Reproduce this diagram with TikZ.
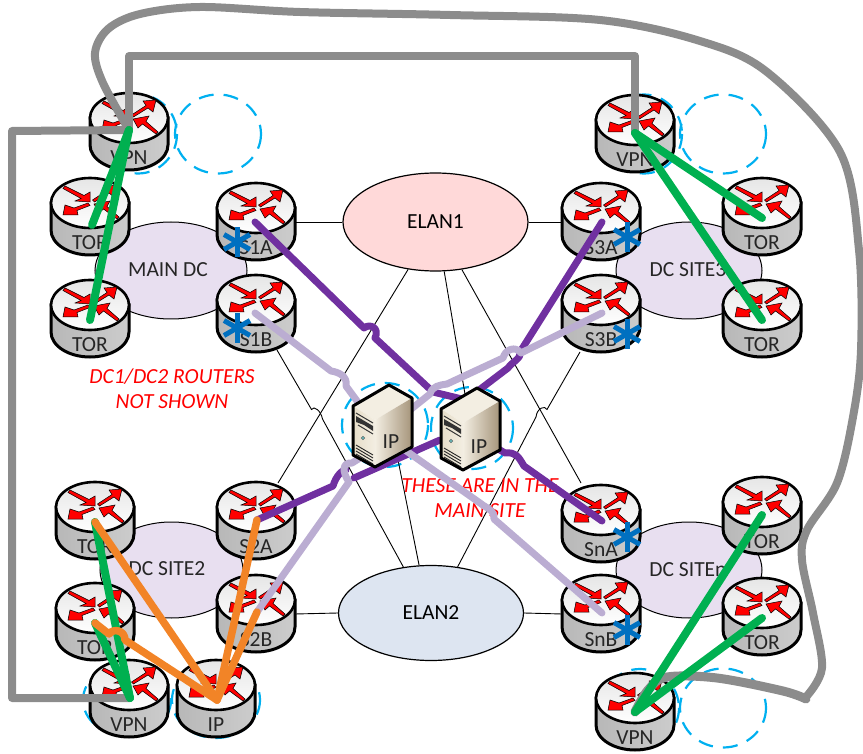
\documentclass[tikz,border=0pt]{standalone}
\usepackage{fontspec}
\setmainfont{Carlito}
\usetikzlibrary{shapes.geometric}
\definecolor{grpfill}{HTML}{E8DFF0}
\definecolor{elanpink}{HTML}{FFD9D9}
\definecolor{elanblue}{HTML}{DDE5F1}
\definecolor{wanpurple}{HTML}{7030A0}
\definecolor{wanlilac}{HTML}{BBADD2}
\definecolor{wangreen}{HTML}{00B050}
\definecolor{wanorange}{HTML}{F28427}
\definecolor{wangray}{HTML}{8C8C8C}
\definecolor{astblue}{HTML}{0070C0}
\definecolor{dashblue}{HTML}{00B0F0}
\definecolor{srvtop}{HTML}{F3EEE2}
\definecolor{srvl}{HTML}{E6DDC8}
\definecolor{srvr}{HTML}{A5947A}
\tikzset{
  grpell/.style={ellipse,draw=black,line width=1pt,fill=grpfill,inner sep=0pt},
  elanell/.style={ellipse,draw=black,line width=1.2pt,inner sep=0pt,font=\fontsize{21.5}{24}\selectfont},
  thinln/.style={draw=black,line width=0.9pt},
  dashring/.style={draw=dashblue,line width=2.2pt,dash pattern=on 15pt off 10pt},
  rlabel/.style={inner sep=0pt,font=\fontsize{21.5}{24}\selectfont,text=black!85},
  slabel/.style={inner sep=0pt,font=\fontsize{21.5}{24}\selectfont,text=black!85},
  redtxt/.style={inner sep=0pt,text=red,font=\fontsize{21.5}{25}\itshape\selectfont,align=center},
  rarrow/.style={fill=red,draw=black,line width=0.5pt,line join=miter},
  purpleln/.style={draw=wanpurple,line width=7pt,line cap=round,line join=round},
  lilacln/.style={draw=wanlilac,line width=7pt,line cap=round,line join=round},
  greenln/.style={draw=wangreen,line width=8pt,line cap=round,line join=round},
  orangeln/.style={draw=wanorange,line width=7.5pt,line cap=round,line join=round},
  grayln/.style={draw=wangray,line width=8pt,line cap=round,line join=round},
  astarm/.style={draw=astblue,line width=5pt}
}
% name, x, y (centre of top ellipse), label
\newcommand{\routerat}[4]{%
  \begin{scope}[shift={(#2,#3)}]
    \path[left color=black!28,middle color=white,right color=black!20,draw=black,line width=3pt]
      (-39,0) -- (-39,27) .. controls (-39,40.8) and (-21.5,52) .. (0,52)
      .. controls (21.5,52) and (39,40.8) .. (39,27) -- (39,0) -- cycle;
    \path[top color=black!10,bottom color=white,draw=black,line width=2.6pt]
      (0,0) ellipse [x radius=39,y radius=25];
    \draw[rarrow] (-25,-17) -- (-6,-7.5) -- (0,-11) -- (0,-1) -- (-15,-2) -- (-9,-4.5) -- (-27,-14.5) -- cycle;
    \draw[rarrow] (2.5,-3) -- (17,-12.5) -- (14,-17) -- (27,-18) -- (24,-6) -- (19,-10) -- (4.5,-1) -- cycle;
    \draw[rarrow] (-2,0) -- (-16,5) -- (-25,2) -- (-27,12) -- (-12,12) -- (-13,7.5) -- (0,2.5) -- cycle;
    \draw[rarrow] (4,1) -- (20,-2) -- (17,3.5) -- (29,14) -- (27,16) -- (13.5,6) -- (9,10) -- cycle;
    \coordinate (#1) at (0,0);
    \coordinate (#1-w) at (-39,14);
    \coordinate (#1-e) at (39,14);
    \node[rlabel] (#1-l) at (0,40) {#4};
  \end{scope}}
% name, x, y of upper-left corner of the front face
\newcommand{\serverat}[3]{%
  \begin{scope}[shift={(#2,#3)}]
    \path[fill=srvtop] (0,0) -- (36,-21) -- (59,-8) -- (22,14) -- cycle;
    \path[left color=srvl,right color=srvtop] (0,0) -- (22,14) -- (22,61) -- (0,49) -- cycle;
    \path[left color=srvtop,right color=srvr] (22,14) -- (59,-8) -- (59,41) -- (22,61) -- cycle;
    \draw[black!80,line width=1pt] (3,7) -- (20,17);
    \fill[black!80] (3,10) -- (20,20) -- (20,25) -- (11,19) -- (3,16) -- cycle;
    \draw[black!80,line width=1pt] (5,19) -- (20,28);
    \fill[teal!60,draw=black!60,line width=0.4pt] (10,32) circle [radius=1.8];
    \foreach \vv in {0,3,6,9}{\draw[black!85,line width=0.9pt] (3,39+\vv) -- (20,49+\vv);}
    \draw[black,line width=3pt,line join=round] (0,0) -- (36,-21) -- (59,-8) -- (59,41) -- (22,61) -- (0,49) -- cycle;
    \coordinate (#1) at (29,20);
  \end{scope}}
\newcommand{\blueast}[2]{%
  \foreach \aa in {90,30,-30}{\draw[astarm] ([shift={(\aa:-15pt)}]#1,#2) -- ([shift={(\aa:15pt)}]#1,#2);}}
\begin{document}
\begin{tikzpicture}[x=1pt,y=-1pt]
\useasboundingbox (0,0) rectangle (863,754);
\clip (0,0) rectangle (863,754);
% dashed rings
\foreach \cx/\cy/\rx/\ry in {218/134/43/39.5,138/134/39/39.5,723/134/43/39.5,644/134/38/39.5,723/708/43/39.5,640/708/39/39,127/700/44/36,216/700/44/38,385/425/43/42,472/428/41/41}{
  \draw[dashring] (\cx,\cy) ellipse [x radius=\rx,y radius=\ry];}
% group ellipses
\node[grpell,minimum width=152pt,minimum height=97pt] (maindc) at (171,270.5) {};
\node[grpell,minimum width=146pt,minimum height=97pt] (site3) at (689,270.5) {};
\node[grpell,minimum width=143pt,minimum height=96pt] (site2) at (171.5,570) {};
\node[grpell,minimum width=146pt,minimum height=96pt] (siten) at (689,570) {};
\node[rlabel] at (168,270) {MAIN DC};
\node[rlabel] at (688,270) {DC SITE3};
\node[rlabel] at (167,569) {DC SITE2};
\node[rlabel] at (688,570) {DC SITEn};
% ELAN
\node[elanell,fill=elanpink,minimum width=185pt,minimum height=98pt] (elan1) at (435.5,222) {ELAN1};
\node[elanell,fill=elanblue,minimum width=185pt,minimum height=95pt] (elan2) at (431,613) {ELAN2};
% routers
\routerat{vpn1}{129}{118}{VPN}
\routerat{tor1}{90}{203}{TOR}
\routerat{tor2}{90}{305}{TOR}
\routerat{s1a}{256}{208}{S1A}
\routerat{s1b}{256}{300}{S1B}
\routerat{vpn2}{635}{120}{VPN}
\routerat{s3a}{601}{208}{S3A}
\routerat{s3b}{601}{300}{S3B}
\routerat{tor3}{762}{203}{TOR}
\routerat{tor4}{762}{305}{TOR}
\routerat{tor5}{95}{507}{TOR}
\routerat{tor6}{95}{608}{TOR}
\routerat{vpn3}{129}{685}{VPN}
\routerat{iprt}{216}{685}{IP}
\routerat{s2a}{256}{507}{S2A}
\routerat{s2b}{256}{600}{S2B}
\routerat{sna}{601}{510}{SnA}
\routerat{snb}{601}{600}{SnB}
\routerat{tor7}{762}{502}{TOR}
\routerat{tor8}{762}{603}{TOR}
\routerat{vpn4}{635}{698}{VPN}
% free ends of the thin links
\coordinate (s1bfoot) at (277,350);
\coordinate (s3bfoot) at (580,352);
\coordinate (s2atop) at (278,483);
\coordinate (snatop) at (581,483);
\coordinate (srv1thin) at (396,450);
\coordinate (srv2thin) at (466,400);
% thin links
\draw[thinln] (s1a-e) -- (elan1.west);
\draw[thinln] (elan1.east) -- (s3a-w);
\draw[thinln] (s2b-e) -- (elan2.west);
\draw[thinln] (elan2.east) -- (snb-w);
\draw[thinln] (elan1.240) -- (s2atop);
\draw[thinln] (elan1.280) -- (srv2thin);
\draw[thinln] (elan1.299) -- (snatop);
\draw[thinln] (elan2.104) -- (srv1thin);
\draw[thinln] (s1bfoot) -- (311.5,409.5) .. controls (314,405) and (321,411) .. (322.5,419) -- (elan2.121);
\draw[thinln] (s3bfoot) -- (547,409.5) .. controls (545,405) and (537,408) .. (536,417) -- (elan2.60);
% red notes
\node[redtxt] (note1) at (172,388.5) {DC1/DC2 ROUTERS\\NOT SHOWN};
\node[redtxt] (note2) at (480,498.5) {THESE ARE IN THE\\MAIN SITE};
% asterisks
\blueast{237}{242}
\blueast{237}{328}
\blueast{627}{237}
\blueast{627}{334}
\blueast{627}{537}
\blueast{627}{630}
% named ends of the heavy links
\coordinate (vpn1a) at (129,130);
\coordinate (vpn2a) at (635,133);
\coordinate (vpn3a) at (130,698);
\coordinate (vpn4a) at (635,712);
\coordinate (ipa) at (217,700);
\coordinate (tor1a) at (92,225);
\coordinate (tor2a) at (90,320);
\coordinate (tor3a) at (762,218);
\coordinate (tor4a) at (762,320);
\coordinate (tor5a) at (95,522);
\coordinate (tor6a) at (95,623);
\coordinate (tor7a) at (762,515);
\coordinate (tor8a) at (762,618);
\coordinate (s1aa) at (255,222);
\coordinate (s1ba) at (255,313);
\coordinate (s2aa) at (257,520);
\coordinate (s2ba) at (257,612);
\coordinate (s3aa) at (602,222);
\coordinate (s3ba) at (602,313);
\coordinate (snaa) at (602,521);
\coordinate (snba) at (602,613);
% gray links
\draw[grayln] (vpn1a) -- (12,131) -- (12,698) -- (vpn3a);
\draw[grayln] (vpn1a) -- (129,56) -- (635,56) -- (vpn2a);
\draw[grayln] plot[smooth,tension=0.55] coordinates {(vpn1a) (103,83) (95,53) (108,29) (140,14) (200,7) (300,12) (450,15) (600,20) (700,41) (767,72) (840,152) (859,250) (861,350) (853,417) (837,483) (807,530) (802,560) (813,613) (822,668) (806,697)};
\draw[grayln,line width=9pt] plot[smooth,tension=0.55] coordinates {(806,699) (783,691) (717,678) (667,677) (648,690) (vpn4a)};
% purple links
\draw[purpleln] (s1aa) -- (364,328) .. controls (370,323) and (380,328) .. (375,338) -- (433,392) -- (srv2thin);
\draw[purpleln] (s3aa) -- (520,352) .. controls (522,358) and (512,362) .. (508,368) -- (srv2thin);
\draw[purpleln] (s2aa) -- (333,486) .. controls (336,476) and (342,470) .. (346,470) (354,478) -- (440,440);
\draw[purpleln] (snaa) -- (524,466) .. controls (518,456) and (516,452) .. (505,453) -- (495,447);
% lilac links
\draw[lilacln] (s3ba) -- (521,353) .. controls (515,345) and (505,350) .. (503,358) -- (447,384) .. controls (440,385) and (432,386) .. (430,394) -- (410,410);
\draw[lilacln] (s1ba) -- (331,371) .. controls (338,372) and (348,376) .. (346,386) -- (360,405);
\draw[lilacln] (s2ba) -- (349,482) .. controls (342,472) and (342,462) .. (352,463) -- (360,458);
\draw[lilacln] (snba) -- (494,519) .. controls (495,510) and (486,508) .. (480,503) -- (405,450);
% servers
\serverat{srv1}{353}{406}
\serverat{srv2}{441}{409}
\node[slabel] (srv1l) at (391,442) {IP};
\node[slabel] (srv2l) at (479,447) {IP};
% green links
\draw[greenln] (vpn1a) -- (tor1a);
\draw[greenln] (vpn1a) -- (tor2a);
\draw[greenln] (vpn2a) -- (tor3a);
\draw[greenln] (vpn2a) -- (tor4a);
\draw[greenln] (vpn3a) -- (tor5a);
\draw[greenln] (vpn3a) -- (tor6a);
\draw[greenln] (vpn4a) -- (tor7a);
\draw[greenln] (vpn4a) -- (tor8a);
% orange links
\draw[orangeln] (ipa) -- (tor5a);
\draw[orangeln] (tor6a) -- (109,634) .. controls (113,628) and (125,630) .. (125,640) -- (ipa);
\draw[orangeln] (ipa) -- (s2aa);
\draw[orangeln] (ipa) -- (s2ba);
\end{tikzpicture}
\end{document}
